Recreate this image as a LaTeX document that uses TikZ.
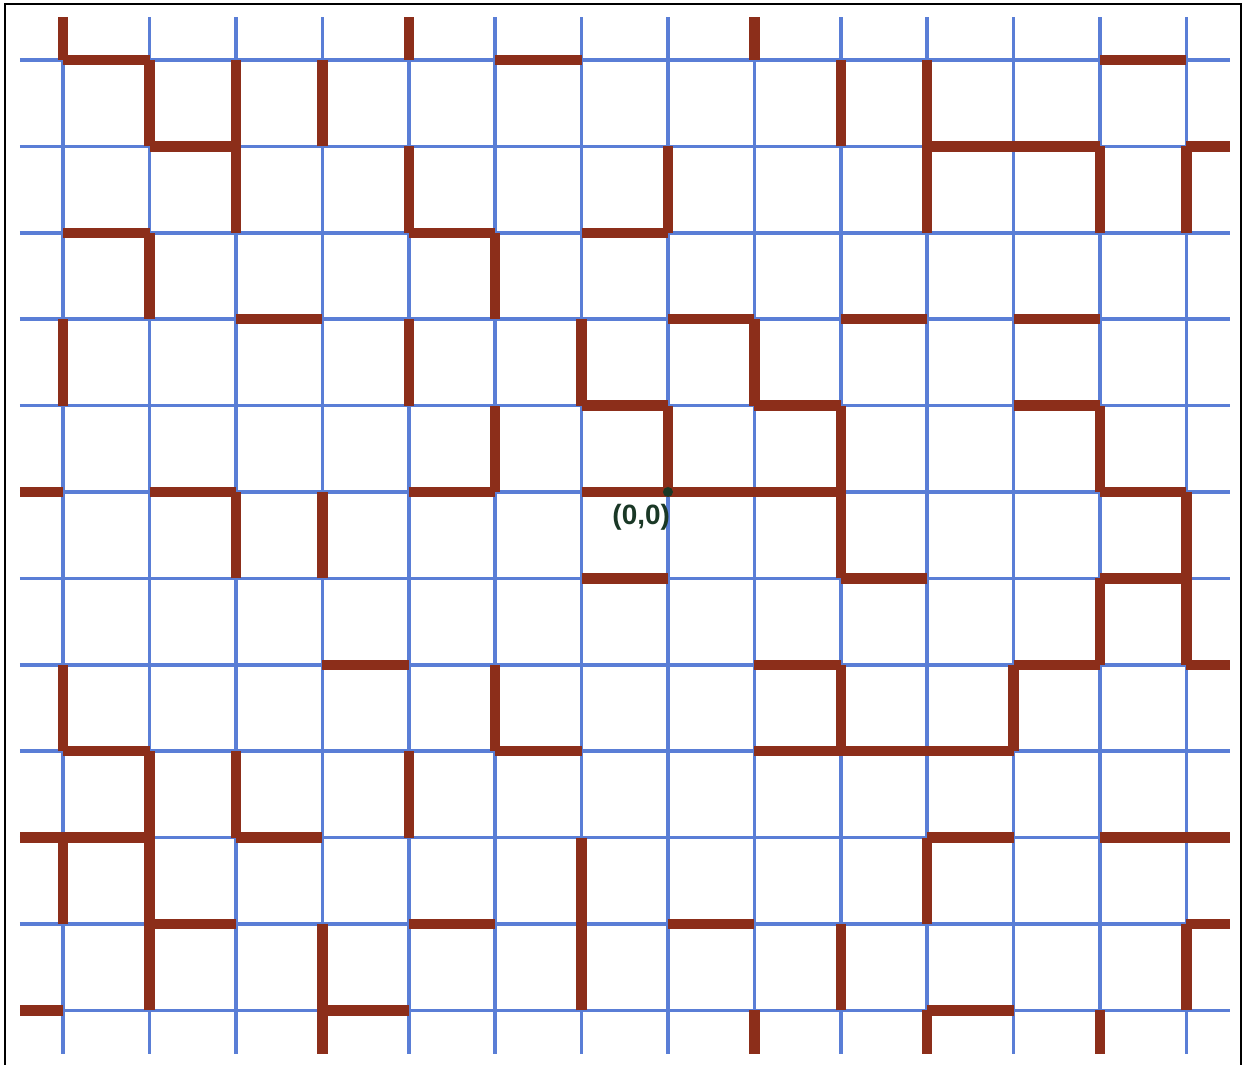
\documentclass[tikz,border=0pt]{standalone}
\usepackage{fontspec}
\newfontfamily\lblfont{Liberation Sans}
\definecolor{latblue}{RGB}{90,126,214}
\definecolor{bondred}{RGB}{140,46,26}
\definecolor{origgreen}{RGB}{26,56,38}
\begin{document}
\begin{tikzpicture}[x=1cm,y=1cm,
  latline/.style={latblue,line width=1.2pt},
  bond/.style={bondred,line width=3.4pt},
  every node/.style={font=\lblfont\bfseries\fontsize{9.2}{11}\selectfont}]
\useasboundingbox (-7.731,-6.632) rectangle (6.667,5.694);
\draw[line width=0.7pt] (-7.668,-6.8) -- (-7.668,5.648) -- (6.632,5.648) -- (6.632,-6.8);
% lattice
\foreach \x in {-7,...,6}
  \draw[latline] (\x,-6.5) -- (\x,5.5);
\foreach \y in {-6,...,5}
  \draw[latline] (-7.5,\y) -- (6.5,\y);
% open horizontal bonds
\foreach \x/\y in {
  -7/5, -2/5, 5/5,
  -6/4, 3/4, 4/4,
  -7/3, -3/3, -1/3,
  -5/2, 0/2, 2/2, 4/2,
  -1/1, 1/1, 4/1,
  -6/0, -3/0, -1/0, 0/0, 1/0, 5/0,
  -1/-1, 2/-1, 5/-1,
  -4/-2, 1/-2, 4/-2,
  -7/-3, -2/-3, 1/-3, 2/-3, 3/-3,
  -7/-4, -5/-4, 3/-4, 5/-4,
  -6/-5, -3/-5, 0/-5,
  -4/-6, 3/-6
}{
  \draw[bond] (\x,\y) -- ++(1,0);
}
% open vertical bonds
\foreach \x/\y in {
  -6/4, -5/4, -4/4, 2/4, 3/4,
  -5/3, -3/3, 0/3, 3/3, 5/3, 6/3,
  -6/2, -2/2,
  -7/1, -3/1, -1/1, 1/1,
  -2/0, 0/0, 2/0, 5/0,
  -5/-1, -4/-1, 2/-1, 6/-1,
  5/-2, 6/-2,
  -7/-3, -2/-3, 2/-3, 4/-3,
  -6/-4, -5/-4, -3/-4,
  -7/-5, -6/-5, -1/-5, 3/-5,
  -6/-6, -4/-6, -1/-6, 2/-6, 6/-6
}{
  \draw[bond] (\x,\y) -- ++(0,1);
}
% half bonds at the border
\foreach \y in {0,-4,-6}
  \draw[bond] (-7,\y) -- ++(-0.5,0);
\foreach \y in {4,-2,-4,-5}
  \draw[bond] (6,\y) -- ++(0.5,0);
\foreach \x in {-7,-3,1}
  \draw[bond] (\x,5) -- ++(0,0.5);
\foreach \x in {-4,1,3,5}
  \draw[bond] (\x,-6) -- ++(0,-0.5);
% origin
\coordinate (O) at (0,0);
\fill[origgreen] (O) circle (0.058);
\node[origgreen] (olabel) at (-0.31,-0.295) {(0,0)};
\end{tikzpicture}
\end{document}
